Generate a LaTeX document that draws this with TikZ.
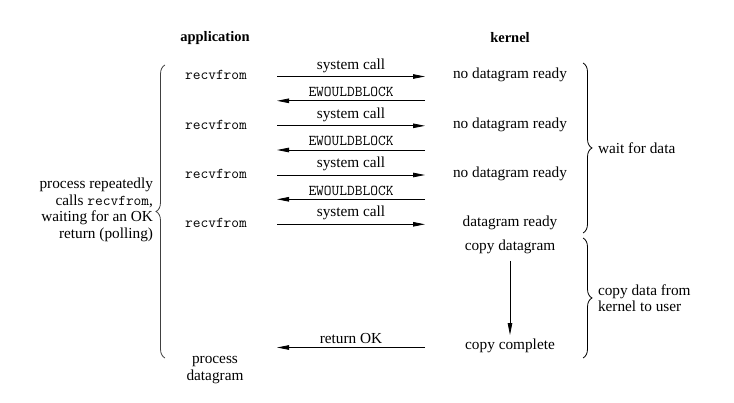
\documentclass[tikz,border=0pt]{standalone}
\usepackage{fontspec}
\setmainfont{Liberation Serif}
\usetikzlibrary{arrows.meta,decorations.pathreplacing}
\newcommand{\codesize}{\fontsize{15}{16.5}\selectfont}
\begin{document}
\begin{tikzpicture}[x=1pt,y=-1pt,
  every node/.style={inner sep=0pt,outer sep=0pt,font=\fontsize{15.3}{16.5}\selectfont},
  head/.style={font=\fontsize{14.5}{16.5}\selectfont\bfseries},
  code/.style={font=\codesize\ttfamily},
  lbl/.style={above=4pt},
  arr/.style={line width=0.8pt,-{Triangle[length=12pt,width=4.5pt]}},
  bracedeco/.style={line width=0.8pt,decorate,decoration={brace,amplitude=9pt}}]
\useasboundingbox (0,0) rectangle (734,403);
% headers
\node[head] (happ) at (215,38) {application};
\node[head] (hker) at (510,38) {kernel};
% application column
\node[code] (r1) at (216,75) {recvfrom};
\node[code] (r2) at (216,124.5) {recvfrom};
\node[code] (r3) at (216,173.5) {recvfrom};
\node[code] (r4) at (216,222.5) {recvfrom};
\node[align=center] (pd) at (215,370) {process\\datagram};
% kernel column
\node (k1) at (510,75) {no datagram ready};
\node (k2) at (510,124.5) {no datagram ready};
\node (k3) at (510,173.5) {no datagram ready};
\node (k4) at (510,222.5) {datagram ready};
\node (k5) at (510,247) {copy datagram};
\node (k6) at (510,346) {copy complete};
% arrow end points
\foreach \i/\y in {1/76.5,2/125.8,3/175,4/224.3}{
  \coordinate (sa\i) at (277,\y);
  \coordinate (sk\i) at (425,\y);
}
\foreach \i/\y in {1/100.8,2/150,3/199.3}{
  \coordinate (ea\i) at (277,\y);
  \coordinate (ek\i) at (425,\y);
}
\coordinate (oa) at (277,347.5);
\coordinate (ok) at (425,347.5);
% system calls
\foreach \i in {1,...,4}{
  \draw[arr] (sa\i) -- node[lbl] {system call} (sk\i);
}
\foreach \i in {1,...,3}{
  \draw[arr] (ek\i) -- node[lbl,code] {EWOULDBLOCK} (ea\i);
}
\draw[arr] (ok) -- node[lbl] {return OK} (oa);
\draw[arr,shorten <=7pt,shorten >=4pt] (k5) -- (k6);
% braces
\coordinate (lb1) at (165,358);
\coordinate (lb2) at (165,65);
\draw[bracedeco,draw=black!75] (lb1) -- (lb2);
\node[anchor=east] (ltext) at (153,210)
  {\begin{tabular}{@{}r@{}}process repeatedly\\calls {\codesize\ttfamily recvfrom},\\waiting for an OK\\return (polling)\end{tabular}};
\coordinate (rb1) at (583,63);
\coordinate (rb2) at (583,233);
\draw[bracedeco] (rb1) -- (rb2);
\node[anchor=west] (wait) at (598,148) {wait for data};
\coordinate (rc1) at (583,238);
\coordinate (rc2) at (583,358);
\draw[bracedeco] (rc1) -- (rc2);
\node[anchor=west,align=left] (copy) at (598,298) {copy data from\\kernel to user};
\end{tikzpicture}
\end{document}
